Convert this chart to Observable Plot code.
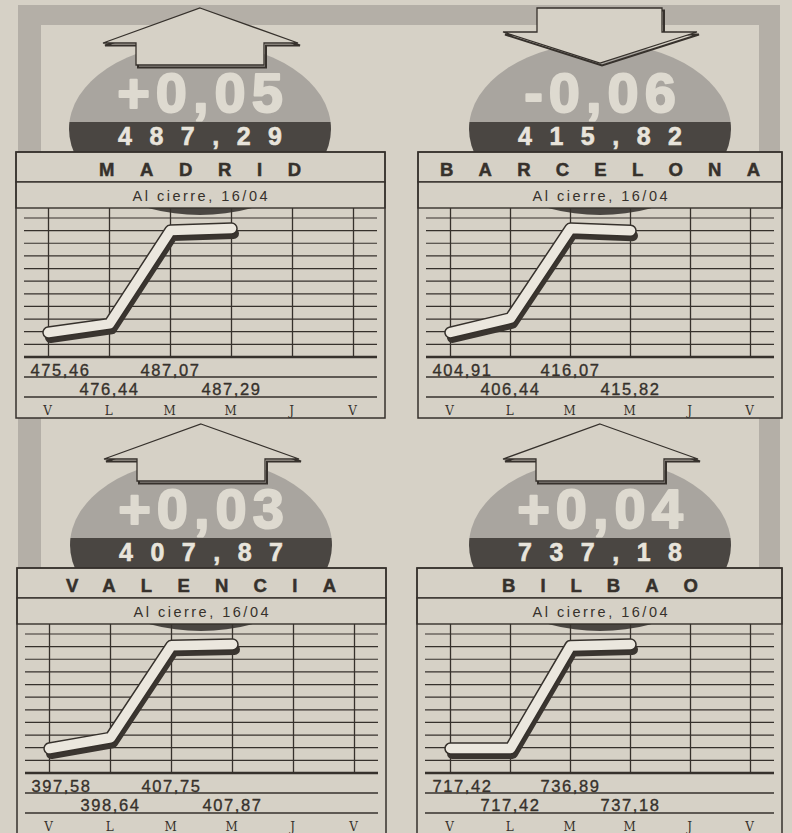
<!DOCTYPE html>
<html><head><meta charset="utf-8">
<script src="https://cdn.jsdelivr.net/npm/d3@7"></script>
<script src="https://cdn.jsdelivr.net/npm/@observablehq/plot@0.6"></script>
<style>
html,body{margin:0;padding:0;background:#d6d1c6;}
#root{position:relative;width:792px;height:833px;overflow:hidden;background:#d6d1c6;}
#root svg.deco{position:absolute;left:0;top:0;}
.panel{position:absolute;}
</style></head><body><div id="root"></div>
<script>
// ---- data ----
const cities = ["MADRID", "BARCELONA", "VALENCIA", "BILBAO"];
const days = ["V", "L", "M", "M", "J", "V"];
const changes = ["+0,05", "-0,06", "+0,03", "+0,04"];
const closes = ["487,29", "415,82", "407,87", "737,18"];
const subtitle = "Al cierre, 16/04";
const madrid = [475.46, 476.44, 487.07, 487.29];
const barcelona = [404.91, 406.44, 416.07, 415.82];
const valencia = [397.58, 398.64, 407.75, 407.87];
const bilbao = [717.42, 717.42, 736.89, 737.18];
const series = [madrid, barcelona, valencia, bilbao];

// ---- layout / style ----
const panels = [
  {left: 16, width: 369, top: 152, cx: 200, titleLen: 202},
  {left: 418, width: 364, top: 152, cx: 600, titleLen: 320},
  {left: 17, width: 369, top: 568, cx: 201, titleLen: 270},
  {left: 417, width: 365, top: 568, cx: 600, titleLen: 196}
];
const paper = "#d6d1c6", ink = "#36312c", band = "#b4afa7";
const light = "#a9a59f", dark = "#4a4642";
const sans = "'Liberation Sans', Arial, Helvetica, sans-serif";
const fmt = d3.formatLocale({decimal: ",", thousands: ".", grouping: [3]}).format(".2f");

const root = d3.select("#root");
const svg = root.append("svg").attr("class", "deco").attr("width", 792).attr("height", 833);
const defs = svg.append("defs");

// outer frame band
svg.append("path")
  .attr("d", "M18,5H780V900H18Z M41,25H759V900H41Z")
  .attr("fill", band).attr("fill-rule", "evenodd");

panels.forEach((p, k) => {
  const T = p.top, L = p.left, W = p.width, cx = p.cx, H = 266;
  const g = svg.append("g");
  g.append("rect").attr("x", L).attr("y", T).attr("width", W).attr("height", H).attr("fill", paper);
  // ellipse (two tones)
  const cy = T - 23, rx = 131, ry = 86, split = T - 30;
  defs.append("clipPath").attr("id", "cu" + k).append("rect")
    .attr("x", cx - 140).attr("y", cy - 100).attr("width", 280).attr("height", split - (cy - 100));
  defs.append("clipPath").attr("id", "cd" + k).append("rect")
    .attr("x", cx - 140).attr("y", split).attr("width", 280).attr("height", 200);
  g.append("ellipse").attr("cx", cx).attr("cy", cy).attr("rx", rx).attr("ry", ry)
    .attr("fill", light).attr("clip-path", `url(#cu${k})`);
  g.append("ellipse").attr("cx", cx).attr("cy", cy).attr("rx", rx).attr("ry", ry)
    .attr("fill", dark).attr("clip-path", `url(#cd${k})`);
  // arrow
  const up = changes[k].startsWith("+");
  const pts = up
    ? [[cx, T - 144], [cx + 98, T - 109], [cx + 64, T - 109], [cx + 64, T - 87], [cx - 64, T - 87], [cx - 64, T - 109], [cx - 97, T - 109]]
    : [[cx - 63, T - 144], [cx + 62, T - 144], [cx + 62, T - 120], [cx + 97, T - 120], [cx, T - 89], [cx - 97, T - 120], [cx - 63, T - 120]];
  const ptsStr = pts.map(d => d.join(",")).join(" ");
  g.append("polygon").attr("points", ptsStr).attr("transform", "translate(2,2.5)")
    .attr("fill", "none").attr("stroke", ink).attr("stroke-width", 2);
  g.append("polygon").attr("points", ptsStr).attr("fill", paper).attr("stroke", ink).attr("stroke-width", 1.3);
  // big numbers
  g.append("text").attr("x", cx + 3).attr("y", T - 40).attr("text-anchor", "middle")
    .attr("font-family", sans).attr("font-weight", 700).attr("font-size", 56)
    .attr("letter-spacing", 6).attr("fill", "#dedad0")
    .attr("stroke", "#dedad0").attr("stroke-width", 2).attr("stroke-linejoin", "round")
    .text(changes[k]);
  g.append("text").attr("x", cx + 8.75).attr("y", T - 7).attr("text-anchor", "middle")
    .attr("font-family", sans).attr("font-weight", 700).attr("font-size", 25)
    .attr("letter-spacing", 17.5).attr("fill", "#e8e4db")
    .attr("stroke", "#e8e4db").attr("stroke-width", 0.6)
    .text(closes[k]);
  // title boxes
  g.append("rect").attr("x", L).attr("y", T).attr("width", W).attr("height", 30)
    .attr("fill", paper).attr("stroke", ink).attr("stroke-width", 1.4);
  g.append("rect").attr("x", L).attr("y", T + 30).attr("width", W).attr("height", 26)
    .attr("fill", paper).attr("stroke", ink).attr("stroke-width", 1.4);
  g.append("text").attr("x", cx).attr("y", T + 24).attr("text-anchor", "middle")
    .attr("font-family", sans).attr("font-weight", 700).attr("font-size", 18.5)
    .attr("textLength", p.titleLen).attr("lengthAdjust", "spacing")
    .attr("fill", ink).attr("stroke", ink).attr("stroke-width", 0.5).text(cities[k]);
  g.append("text").attr("x", cx + 1.25).attr("y", T + 49).attr("text-anchor", "middle")
    .attr("font-family", sans).attr("font-size", 14.5).attr("letter-spacing", 2.5)
    .attr("fill", ink).text(subtitle);
  // ruled lines
  for (let i = 0; i < 12; i++) {
    const y = T + 66 + i * 12.636;
    g.append("line").attr("x1", L + 8).attr("x2", L + W - 8).attr("y1", y).attr("y2", y)
      .attr("stroke", ink).attr("stroke-width", i === 11 ? 2.4 : 1.2);
  }
  [T + 225, T + 245].forEach(y => {
    g.append("line").attr("x1", L + 8).attr("x2", L + W - 8).attr("y1", y).attr("y2", y)
      .attr("stroke", ink).attr("stroke-width", 1.3);
  });
  g.append("rect").attr("x", L).attr("y", T).attr("width", W).attr("height", H)
    .attr("fill", "none").attr("stroke", ink).attr("stroke-width", 1.5);
});

// ---- charts ----
series.forEach((vals, k) => {
  const p = panels[k];
  const data = vals.map((v, i) => ({i, v}));
  const idx = d3.range(days.length);
  const textOpts = {x: "i", text: d => fmt(d.v), frameAnchor: "bottom", lineAnchor: "bottom",
    fontFamily: sans, fontSize: 16.5, fill: ink, stroke: ink, strokeWidth: 0.35};
  const chart = Plot.plot({
    width: p.width, height: 210,
    marginTop: 0, marginBottom: 61, marginLeft: 31, marginRight: 31,
    style: "background:transparent;overflow:visible;letter-spacing:1.6px;",
    x: {type: "point", domain: idx, padding: 0, axis: null},
    y: {domain: d3.extent(vals), range: [124, 20], axis: null},
    marks: [
      Plot.ruleX(idx, {x: d => d, stroke: ink, strokeWidth: 1.3}),
      Plot.line(data, {x: "i", y: "v", stroke: "#3a3530", strokeWidth: 11, dx: 2, dy: 5,
        strokeLinecap: "round", strokeLinejoin: "round"}),
      Plot.line(data, {x: "i", y: "v", stroke: ink, strokeWidth: 12.5,
        strokeLinecap: "round", strokeLinejoin: "round"}),
      Plot.line(data, {x: "i", y: "v", stroke: "#ebe7de", strokeWidth: 9.5,
        strokeLinecap: "round", strokeLinejoin: "round"}),
      Plot.text(data.filter(d => d.i === 0), {...textOpts, textAnchor: "start", dx: -18, dy: 18}),
      Plot.text(data.filter(d => d.i > 0 && d.i % 2 === 0), {...textOpts, dy: 18}),
      Plot.text(data.filter(d => d.i % 2 === 1), {...textOpts, dy: 37}),
      Plot.text(idx, {x: d => d, text: d => days[d], frameAnchor: "bottom", lineAnchor: "bottom",
        dy: 57, fontFamily: "'DejaVu Serif', 'Liberation Serif', serif", fontSize: 12, fill: ink})
    ]
  });
  const div = root.append("div").attr("class", "panel")
    .style("left", p.left + "px").style("top", (p.top + 56) + "px");
  div.node().appendChild(chart);
});
</script>
</body></html>
